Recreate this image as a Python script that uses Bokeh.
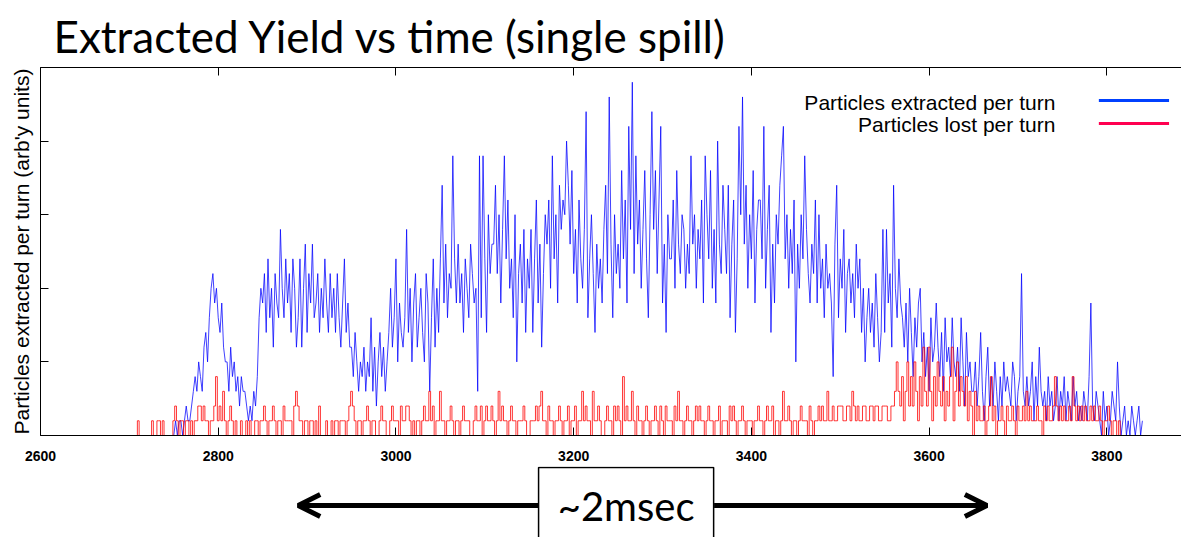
from bokeh.plotting import figure
from bokeh.models import Range1d, LinearAxis, FixedTicker, Label, Arrow, OpenHead
from bokeh.layouts import column
from bokeh.embed import file_html
from bokeh.resources import INLINE

# ---------------- data ----------------
title_text = "Extracted Yield vs time (single spill)"
y_label = "Particles extracted per turn (arb'y units)"
series_names = ["Particles extracted per turn", "Particles lost per turn"]
x_ticks = [2600, 2800, 3000, 3200, 3400, 3600, 3800]
y_ticks = [0, 5, 10, 15, 20, 25]

blue_start, red_start, turn_step = 2750, 2700, 2

extracted = [
    0, 1, 0, 1, 1, 0, 1, 2, 1, 1,
    2, 3, 4, 3, 5, 4, 3, 6, 7, 5,
    8, 10, 11, 9, 10, 8, 7, 9, 6, 5,
    5, 3, 6, 4, 5, 3, 4, 2, 4, 3,
    3, 2, 1, 2, 1, 3, 2, 4, 8, 10,
    9, 11, 7, 12, 8, 10, 6, 11, 9, 8,
    14, 10, 8, 12, 9, 11, 7, 12, 10, 6,
    8, 12, 6, 10, 13, 7, 11, 9, 13, 8,
    9, 11, 7, 10, 8, 12, 9, 7, 11, 8,
    10, 7, 11, 8, 6, 9, 12, 7, 9, 6,
    6, 4, 7, 5, 3, 5, 4, 6, 3, 5,
    4, 8, 3, 6, 2, 5, 7, 4, 6, 3,
    5, 7, 10, 6, 8, 12, 5, 9, 7, 6,
    8, 14, 7, 10, 5, 9, 11, 6, 8, 10,
    7, 5, 11, 9, 3, 8, 12, 6, 10, 7,
    12, 17, 9, 13, 8, 11, 10, 19, 12, 9,
    13, 9, 11, 7, 12, 10, 8, 13, 11, 9,
    10, 3, 19, 8, 19, 12, 7, 15, 11, 13,
    13, 17, 11, 15, 9, 14, 19, 12, 16, 10,
    12, 8, 15, 5, 11, 13, 9, 14, 7, 12,
    10, 14, 7, 12, 16, 9, 13, 6, 11, 15,
    13, 16, 10, 19, 12, 15, 9, 17, 14, 16,
    15, 20, 17, 13, 18, 11, 14, 9, 16, 12,
    10, 14, 22, 8, 12, 15, 11, 7, 13, 10,
    12, 9, 14, 17, 11, 23, 13, 8, 15, 11,
    13, 10, 18, 12, 16, 9, 21, 14, 24, 11,
    19, 13, 16, 10, 14, 18, 12, 8, 15, 22,
    14, 18, 11, 16, 21, 9, 13, 7, 15, 12,
    12, 16, 10, 18, 13, 11, 15, 14, 10, 13,
    11, 19, 13, 15, 10, 14, 12, 16, 9, 19,
    15, 12, 18, 10, 14, 9, 20, 13, 11, 17,
    14, 11, 17, 8, 13, 16, 7, 12, 21, 15,
    23, 13, 17, 10, 15, 12, 18, 9, 14, 16,
    16, 12, 21, 10, 14, 17, 7, 13, 9, 15,
    13, 17, 19, 21, 12, 15, 10, 14, 11, 16,
    5, 13, 10, 15, 12, 19, 14, 11, 9, 13,
    11, 16, 9, 15, 10, 12, 8, 13, 10, 11,
    9, 4, 13, 17, 8, 12, 10, 14, 7, 11,
    12, 9, 11, 8, 13, 10, 12, 7, 10, 5,
    8, 10, 7, 9, 6, 11, 8, 5, 7, 14,
    7, 14, 9, 11, 6, 17, 10, 8, 12, 9,
    8, 6, 9, 5, 10, 7, 4, 8, 6, 9,
    10, 5, 7, 4, 6, 3, 8, 5, 6, 9,
    6, 4, 7, 3, 8, 5, 6, 4, 8, 5,
    4, 6, 3, 8, 5, 2, 7, 4, 5, 3,
    3, 5, 2, 4, 7, 3, 1, 4, 6, 2,
    4, 2, 5, 3, 1, 4, 2, 5, 3, 4,
    3, 2, 5, 4, 1, 3, 4, 11, 3, 2,
    4, 2, 3, 5, 1, 4, 2, 6, 3, 2,
    3, 1, 4, 2, 3, 1, 2, 4, 1, 3,
    2, 4, 1, 3, 2, 1, 4, 2, 3, 1,
    2, 1, 3, 2, 1, 4, 9, 2, 1, 3,
    2, 1, 0, 3, 1, 2, 0, 1, 3, 2,
    1, 5, 2, 0, 1, 2, 0, 1, 0, 2,
    1, 0, 1, 2, 0, 1,
]

lost = [
    0, 0, 0, 0, 0, 1, 0, 0, 0, 0,
    0, 0, 0, 1, 0, 0, 1, 1, 0, 1,
    0, 0, 0, 0, 0, 1, 2, 1, 0, 1,
    1, 0, 1, 1, 0, 1, 0, 1, 1, 2,
    2, 1, 2, 1, 1, 0, 1, 1, 2, 4,
    1, 2, 1, 3, 1, 0, 1, 2, 1, 0,
    1, 0, 0, 1, 0, 0, 1, 0, 1, 0,
    0, 1, 1, 0, 1, 1, 2, 1, 0, 1,
    1, 2, 1, 0, 1, 1, 0, 2, 1, 1,
    1, 1, 0, 2, 3, 2, 1, 1, 0, 1,
    1, 0, 1, 1, 0, 1, 0, 2, 0, 0,
    0, 1, 0, 0, 1, 0, 1, 1, 0, 1,
    1, 1, 0, 1, 2, 3, 2, 1, 0, 1,
    1, 0, 1, 1, 2, 1, 0, 1, 1, 0,
    0, 1, 2, 1, 1, 0, 0, 1, 2, 1,
    1, 1, 0, 2, 1, 1, 2, 2, 1, 0,
    1, 0, 1, 1, 0, 1, 2, 1, 1, 3,
    1, 2, 0, 1, 1, 3, 1, 1, 0, 1,
    1, 2, 1, 0, 1, 1, 0, 1, 2, 1,
    1, 1, 0, 0, 1, 2, 1, 1, 2, 0,
    1, 2, 1, 1, 2, 1, 0, 1, 3, 1,
    2, 1, 1, 0, 1, 2, 1, 1, 0, 1,
    1, 1, 2, 1, 0, 0, 1, 1, 1, 2,
    1, 2, 3, 1, 1, 0, 2, 1, 1, 0,
    1, 1, 2, 1, 0, 1, 1, 2, 0, 1,
    1, 2, 0, 1, 1, 3, 1, 2, 1, 1,
    0, 3, 1, 1, 2, 1, 0, 0, 1, 2,
    1, 1, 0, 2, 1, 2, 1, 0, 4, 1,
    2, 1, 1, 3, 1, 0, 2, 1, 1, 0,
    1, 2, 1, 0, 1, 1, 2, 1, 0, 2,
    1, 0, 2, 1, 1, 1, 0, 2, 1, 3,
    1, 1, 0, 1, 2, 1, 1, 0, 1, 2,
    1, 2, 1, 1, 0, 1, 2, 1, 1, 0,
    1, 1, 2, 0, 1, 1, 1, 0, 2, 1,
    2, 1, 0, 1, 1, 2, 1, 0, 1, 1,
    1, 0, 1, 1, 2, 1, 1, 0, 1, 2,
    1, 1, 2, 0, 1, 1, 0, 1, 3, 1,
    1, 2, 1, 0, 1, 1, 0, 1, 2, 1,
    1, 1, 0, 2, 1, 0, 1, 1, 2, 1,
    2, 1, 1, 3, 1, 1, 2, 1, 1, 2,
    2, 2, 1, 1, 2, 2, 1, 3, 2, 1,
    2, 1, 1, 2, 2, 1, 1, 2, 2, 1,
    2, 2, 1, 1, 2, 2, 2, 1, 1, 2,
    2, 3, 5, 3, 2, 4, 1, 3, 5, 2,
    4, 2, 5, 3, 1, 4, 2, 6, 3, 2,
    6, 3, 1, 4, 2, 5, 3, 2, 4, 1,
    3, 2, 4, 6, 1, 3, 5, 2, 4, 3,
    2, 4, 1, 3, 2, 0, 3, 1, 2, 1,
    1, 2, 0, 1, 2, 4, 1, 2, 0, 1,
    1, 2, 1, 0, 2, 1, 1, 2, 1, 0,
    2, 1, 1, 2, 1, 3, 1, 2, 1, 1,
    1, 2, 1, 1, 0, 2, 1, 2, 1, 1,
    2, 4, 2, 1, 2, 1, 2, 1, 1, 2,
    1, 4, 2, 1, 2, 1, 2, 1, 2, 1,
    1, 2, 1, 2, 1, 1, 2, 1, 0, 1,
    1, 2, 1, 0, 1, 1, 0, 1, 0, 0,
]

turns_extracted = [blue_start + turn_step * i for i in range(len(extracted))]
turns_lost = [red_start + turn_step * i for i in range(len(lost))]

# ---------------- styling ----------------
W = 1181
BLUE, RED = "#0000ff", "#ff0000"
LEG_BLUE, LEG_RED = "#0040ff", "#ff0050"
AX_FONT = "Liberation Sans"

x_range = Range1d(2600, 3884)

p = figure(width=W, height=466, x_range=x_range, y_range=Range1d(0, 25),
           output_backend="svg", toolbar_location=None,
           x_axis_location=None, y_axis_location=None,
           min_border_left=40, min_border_right=0,
           min_border_top=67, min_border_bottom=31)
p.outline_line_color = None
p.background_fill_color = "white"
p.border_fill_color = "white"
p.grid.grid_line_color = None

p.title.text = title_text
p.title.text_font = "Lato"
p.title.text_font_size = "44px"
p.title.text_font_style = "normal"
p.title.text_color = "black"
p.title.align = "left"
p.title.offset = 13
p.title.standoff = 12

def style_axis(ax):
    ax.major_tick_in = 8
    ax.major_tick_out = 0
    ax.minor_tick_in = 0
    ax.minor_tick_out = 0
    ax.axis_line_color = "black"
    ax.axis_line_width = 1
    ax.major_tick_line_color = "black"

def hide_tick_labels(ax, ticks):
    ax.major_label_overrides = {t: "" for t in ticks}
    ax.major_label_text_font_size = "1px"
    ax.major_label_standoff = 0

bottom = LinearAxis(ticker=FixedTicker(ticks=x_ticks))
style_axis(bottom)
bottom.major_label_text_font = AX_FONT
bottom.major_label_text_font_size = "14px"
bottom.major_label_text_font_style = "bold"
bottom.major_label_text_color = "black"
bottom.major_label_standoff = 15
p.add_layout(bottom, "below")

top = LinearAxis(ticker=FixedTicker(ticks=x_ticks))
style_axis(top)
hide_tick_labels(top, x_ticks)
p.add_layout(top, "above")

left = LinearAxis(ticker=FixedTicker(ticks=y_ticks))
style_axis(left)
hide_tick_labels(left, y_ticks)
left.axis_label = y_label
left.axis_label_text_font = AX_FONT
left.axis_label_text_font_size = "21px"
left.axis_label_text_font_style = "normal"
left.axis_label_text_color = "black"
left.axis_label_standoff = 8
p.add_layout(left, "left")

p.line(turns_extracted, extracted, line_color=BLUE, line_width=1, line_alpha=0.75)
p.step(turns_lost, lost, mode="center", line_color=RED, line_width=1, line_alpha=0.8)

# legend (text right-aligned, sample line on the right)
leg_font = dict(text_font=AX_FONT, text_font_size="21px", text_color="black",
                text_align="right", text_baseline="middle")
p.add_layout(Label(x=3742, y=22.6, text=series_names[0], **leg_font))
p.add_layout(Label(x=3742, y=21.1, text=series_names[1], **leg_font))
p.add_layout(Arrow(end=None, x_start=3791, x_end=3870, y_start=22.76, y_end=22.76,
                   line_color=LEG_BLUE, line_width=3))
p.add_layout(Arrow(end=None, x_start=3791, x_end=3870, y_start=21.2, y_end=21.2,
                   line_color=LEG_RED, line_width=3))

# ---------------- annotation below the axis ----------------
p2 = figure(width=W, height=71, x_range=x_range, y_range=Range1d(0, 71),
            output_backend="svg", toolbar_location=None,
            x_axis_location=None, y_axis_location=None,
            min_border_left=40, min_border_right=0,
            min_border_top=0, min_border_bottom=0)
p2.outline_line_color = None
p2.background_fill_color = "white"
p2.border_fill_color = "white"
p2.grid.grid_line_color = None

head = dict(size=22, line_width=5, line_color="black")
p2.add_layout(Arrow(end=OpenHead(**head), x_start=3160, x_end=2890,
                    y_start=32, y_end=32, line_width=5, line_color="black"))
p2.add_layout(Arrow(end=OpenHead(**head), x_start=3358, x_end=3665,
                    y_start=32, y_end=32, line_width=5, line_color="black"))
p2.quad(left=3160.5, right=3357.5, bottom=-10, top=70, fill_color="white",
        line_color="black", line_width=1.5)
p2.add_layout(Label(x=3259, y=32, text="~2msec", text_font="Lato",
                    text_font_size="40px", text_align="center",
                    text_baseline="middle", text_color="black"))

layout = column(p, p2, spacing=0)
open("out.html", "w").write(file_html(layout, INLINE))
